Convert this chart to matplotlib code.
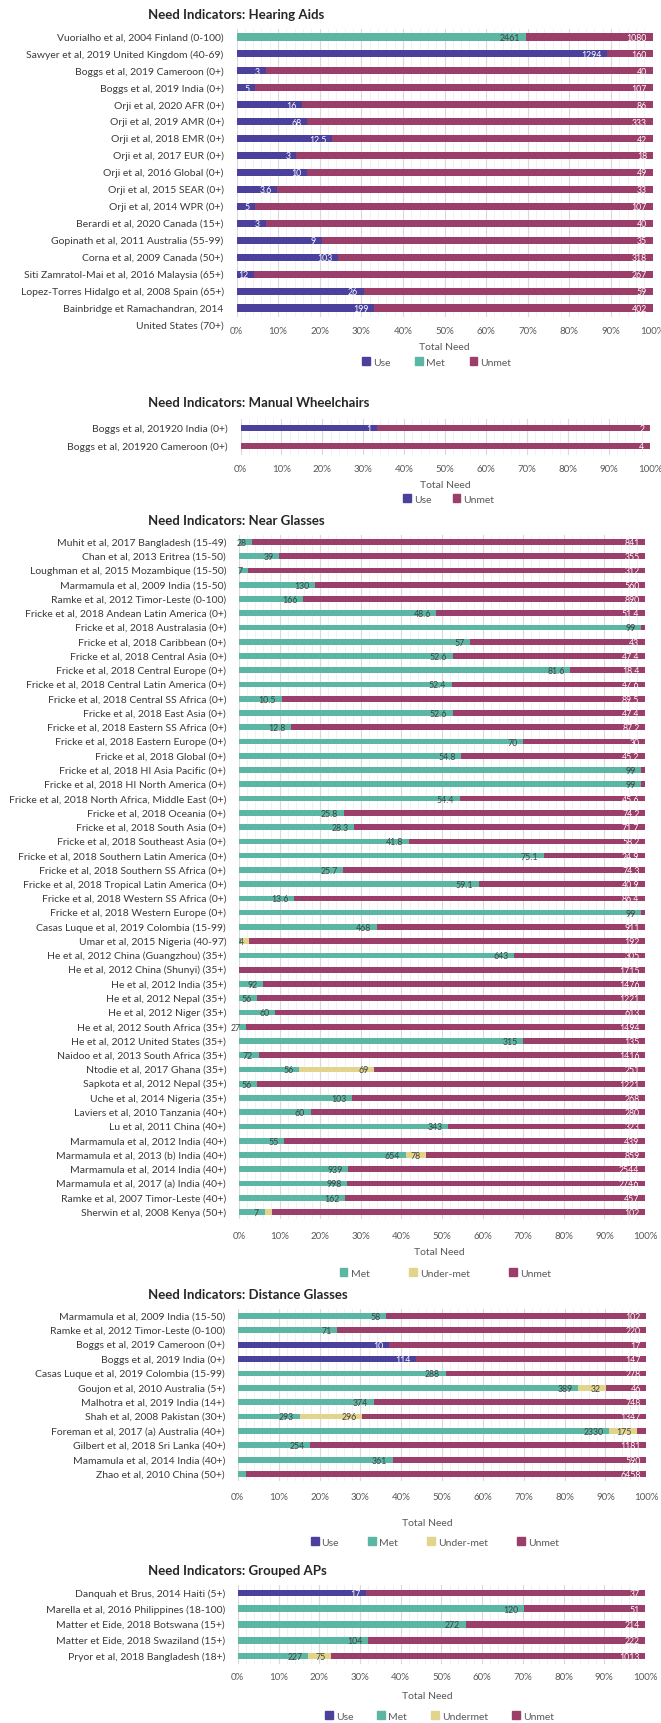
import matplotlib
matplotlib.use("Agg")
import matplotlib.pyplot as plt
import matplotlib.transforms as mtransforms
from matplotlib.patches import Patch
import numpy as np

plt.rcParams["font.family"] = ["Lato", "DejaVu Sans"]

W, H = 661, 1724
C_USE, C_MET, C_UNDER, C_UNMET = "#4b419c", "#5cb6a4", "#e3d48c", "#9b3e6a"
TXT_DARK = "#404040"

# ---- Hearing aids ----
HEAR_CATS = [
    "Vuorialho et al, 2004 Finland (0-100)", "Sawyer et al, 2019 United Kingdom (40-69)",
    "Boggs et al, 2019 Cameroon (0+)", "Boggs et al, 2019 India (0+)",
    "Orji et al, 2020 AFR (0+)", "Orji et al, 2019 AMR (0+)", "Orji et al, 2018 EMR (0+)",
    "Orji et al, 2017 EUR (0+)", "Orji et al, 2016 Global (0+)", "Orji et al, 2015 SEAR (0+)",
    "Orji et al, 2014 WPR (0+)", "Berardi et al, 2020 Canada (15+)",
    "Gopinath et al, 2011 Australia (55-99)", "Corna et al, 2009 Canada (50+)",
    "Siti Zamratol-Mai et al, 2016 Malaysia (65+)", "Lopez-Torres Hidalgo et al, 2008 Spain (65+)",
    "Bainbridge et Ramachandran, 2014\nUnited States (70+)",
]
HEAR_USE = [0, 1294, 3, 5, 16, 68, 12.5, 3, 10, 3.6, 5, 3, 9, 103, 12, 26, 199]
HEAR_MET = [2461, 0, 0, 0, 0, 0, 0, 0, 0, 0, 0, 0, 0, 0, 0, 0, 0]
HEAR_UNMET = [1080, 160, 40, 107, 86, 333, 42, 18, 49, 33, 107, 40, 35, 318, 267, 59, 402]

# ---- Manual wheelchairs ----
WC_CATS = ["Boggs et al, 201920 India (0+)", "Boggs et al, 201920 Cameroon (0+)"]
WC_USE = [1, 0]
WC_UNMET = [2, 4]

# ---- Near glasses ----
NEAR_CATS = [
    "Muhit et al, 2017 Bangladesh (15-49)", "Chan et al, 2013 Eritrea (15-50)",
    "Loughman et al, 2015 Mozambique (15-50)", "Marmamula et al, 2009 India (15-50)",
    "Ramke et al, 2012 Timor-Leste (0-100)", "Fricke et al, 2018 Andean Latin America (0+)",
    "Fricke et al, 2018 Australasia (0+)", "Fricke et al, 2018 Caribbean (0+)",
    "Fricke et al, 2018 Central Asia (0+)", "Fricke et al, 2018 Central Europe (0+)",
    "Fricke et al, 2018 Central Latin America (0+)", "Fricke et al, 2018 Central SS Africa (0+)",
    "Fricke et al, 2018 East Asia (0+)", "Fricke et al, 2018 Eastern SS Africa (0+)",
    "Fricke et al, 2018 Eastern Europe (0+)", "Fricke et al, 2018 Global (0+)",
    "Fricke et al, 2018 HI Asia Pacific (0+)", "Fricke et al, 2018 HI North America (0+)",
    "Fricke et al, 2018 North Africa, Middle East (0+)", "Fricke et al, 2018 Oceania (0+)",
    "Fricke et al, 2018 South Asia (0+)", "Fricke et al, 2018 Southeast Asia (0+)",
    "Fricke et al, 2018 Southern Latin America (0+)", "Fricke et al, 2018 Southern SS Africa (0+)",
    "Fricke et al, 2018 Tropical Latin America (0+)", "Fricke et al, 2018 Western SS Africa (0+)",
    "Fricke et al, 2018 Western Europe (0+)", "Casas Luque et al, 2019 Colombia (15-99)",
    "Umar et al, 2015 Nigeria (40-97)", "He et al, 2012 China (Guangzhou) (35+)",
    "He et al, 2012 China (Shunyi) (35+)", "He et al, 2012 India (35+)",
    "He et al, 2012 Nepal (35+)", "He et al, 2012 Niger (35+)",
    "He et al, 2012 South Africa (35+)", "He et al, 2012 United States (35+)",
    "Naidoo et al, 2013 South Africa (35+)", "Ntodie et al, 2017 Ghana (35+)",
    "Sapkota et al, 2012 Nepal (35+)", "Uche et al, 2014 Nigeria (35+)",
    "Laviers et al, 2010 Tanzania (40+)", "Lu et al, 2011 China (40+)",
    "Marmamula et al, 2012 India (40+)", "Marmamula et al, 2013 (b) India (40+)",
    "Marmamula et al, 2014 India (40+)", "Marmamula et al, 2017 (a) India (40+)",
    "Ramke et al, 2007 Timor-Leste (40+)", "Sherwin et al, 2008 Kenya (50+)",
]
NEAR_MET = [28, 39, 7, 130, 166, 48.6, 99, 57, 52.6, 81.6, 52.4, 10.5, 52.6, 12.8, 70, 54.8,
            99, 99, 54.4, 25.8, 28.3, 41.8, 75.1, 25.7, 59.1, 13.6, 99, 468, 1, 643, 0, 92,
            56, 60, 27, 315, 72, 56, 56, 103, 60, 343, 55, 654, 939, 998, 162, 7]
NEAR_UNDER = [0] * 28 + [4] + [0] * 8 + [69] + [0] * 5 + [78] + [0] * 3 + [2]
NEAR_UNMET = [841, 355, 312, 560, 890, 51.4, 1, 43, 47.4, 18.4, 47.6, 89.5, 47.4, 87.2, 30, 45.2,
              1, 1, 45.6, 74.2, 71.7, 58.2, 24.9, 74.3, 40.9, 86.4, 1, 911, 192, 305, 1715, 1476,
              1221, 613, 1494, 135, 1416, 251, 1221, 268, 280, 323, 439, 859, 2544, 2746, 457, 102]
NEAR_NOLABEL = [(6, "unmet"), (16, "unmet"), (17, "unmet"), (26, "unmet"), (28, "met"), (47, "under")]

# ---- Distance glasses ----
DIST_CATS = [
    "Marmamula et al, 2009 India (15-50)", "Ramke et al, 2012 Timor-Leste (0-100)",
    "Boggs et al, 2019 Cameroon (0+)", "Boggs et al, 2019 India (0+)",
    "Casas Luque et al, 2019 Colombia (15-99)", "Goujon et al, 2010 Australia (5+)",
    "Malhotra et al, 2019 India (14+)", "Shah et al, 2008 Pakistan (30+)",
    "Foreman et al, 2017 (a) Australia (40+)", "Gilbert et al, 2018 Sri Lanka (40+)",
    "Mamamula et al, 2014 India (40+)", "Zhao et al, 2010 China (50+)",
]
DIST_USE = [0, 0, 10, 114, 0, 0, 0, 0, 0, 0, 0, 0]
DIST_MET = [58, 71, 0, 0, 288, 389, 374, 293, 2330, 254, 361, 130]
DIST_UNDER = [0, 0, 0, 0, 0, 32, 0, 296, 175, 0, 0, 0]
DIST_UNMET = [102, 220, 17, 147, 278, 46, 748, 1347, 60, 1181, 590, 6458]
DIST_NOLABEL = [(8, "unmet"), (11, "met")]

# ---- Grouped APs ----
AP_CATS = [
    "Danquah et Brus, 2014 Haiti (5+)", "Marella et al, 2016 Philippines (18-100)",
    "Matter et Eide, 2018 Botswana (15+)", "Matter et Eide, 2018 Swaziland (15+)",
    "Pryor et al, 2018 Bangladesh (18+)",
]
AP_USE = [17, 0, 0, 0, 0]
AP_MET = [0, 120, 272, 104, 227]
AP_UNDER = [0, 0, 0, 0, 75]
AP_UNMET = [37, 51, 214, 222, 1013]

fig = plt.figure(figsize=(W / 100, H / 100), dpi=100)
fig.patch.set_facecolor("white")


def panel(title, cats, series, nolabel, legend, lay):
    (x0, x1, ytop, ybot, bar_h, title_y, tick_y, xlab_x, xlab_y,
     leg_x, leg_y, colsp) = lay
    ax = fig.add_axes([x0 / W, 1 - ybot / H, (x1 - x0) / W, (ybot - ytop) / H])
    n = len(cats)
    y = np.arange(n)
    vals = [np.asarray(v, float) for _, v, _, _ in series]
    tot = np.sum(vals, axis=0)
    left = np.zeros(n)
    for (key, _, col, tcol), v in zip(series, vals):
        w = v / tot * 100
        ax.barh(y, w, left=left, height=bar_h, color=col, zorder=3, lw=0)
        for i in range(n):
            if v[i] > 0 and (i, key) not in nolabel:
                ax.annotate(f"{v[i]:g}", (left[i] + w[i], i), xytext=(-4, -0.3),
                            textcoords="offset points", ha="right", va="center",
                            fontsize=6.3, color=tcol, zorder=4)
        left += w
    ax.set_xlim(0, 100)
    ax.set_ylim(n - 0.5, -0.5)
    ax.set_xticks(np.arange(0, 101, 10))
    ax.set_xticklabels([f"{t}%" for t in range(0, 101, 10)], fontsize=7, color="#595959")
    ax.set_xticks(np.arange(0, 101, 2), minor=True)
    ax.set_yticks([])
    ax.grid(which="major", axis="x", color="#d9d9d9", lw=0.8, zorder=0)
    ax.grid(which="minor", axis="x", color="#efefef", lw=0.6, zorder=0)
    ax.tick_params(which="both", length=0)
    ax.tick_params(axis="x", pad=(tick_y - ybot - 5) * 0.72)
    for s in ax.spines.values():
        s.set_visible(False)
    trans = mtransforms.blended_transform_factory(ax.transAxes, ax.transData)
    for i, lab in enumerate(cats):
        for k, line in enumerate(lab.split("\n")):
            ax.annotate(line, (0, i), xycoords=trans, xytext=(-9.2, -k * 12.2),
                        textcoords="offset points", ha="right", va="center",
                        fontsize=7.5, color="#3a3a3a")
    fig.text(148 / W, 1 - title_y / H, title, fontsize=9.5, fontweight="bold",
             color="#262626", ha="left", va="center")
    fig.text(xlab_x / W, 1 - xlab_y / H, "Total Need", fontsize=7.5,
             color="#595959", ha="center", va="center")
    handles = [Patch(color=c, label=l) for l, c in legend]
    fig.legend(handles=handles, loc="center", bbox_to_anchor=(leg_x / W, 1 - leg_y / H),
               ncol=len(handles), frameon=False, fontsize=7.5, handlelength=0.75,
               handleheight=0.75, handletextpad=0.3, columnspacing=colsp, labelcolor="#595959",
               borderpad=0)
    return ax


panel("Need Indicators: Hearing Aids", HEAR_CATS,
      [("use", HEAR_USE, C_USE, "white"), ("met", HEAR_MET, C_MET, TXT_DARK),
       ("unmet", HEAR_UNMET, C_UNMET, "white")], [],
      [("Use", C_USE), ("Met", C_MET), ("Unmet", C_UNMET)],
      (236.5, 652.5, 29.5, 317.5, 0.42, 15, 332, 444, 347, 437, 363, 2.35))

panel("Need Indicators: Manual Wheelchairs", WC_CATS,
      [("use", WC_USE, C_USE, "white"), ("unmet", WC_UNMET, C_UNMET, "white")], [],
      [("Use", C_USE), ("Unmet", C_UNMET)],
      (240.5, 650, 420, 456, 0.38, 403, 470, 445, 486, 449, 500, 2.0))

panel("Need Indicators: Near Glasses", NEAR_CATS,
      [("met", NEAR_MET, C_MET, TXT_DARK), ("under", NEAR_UNDER, C_UNDER, TXT_DARK),
       ("unmet", NEAR_UNMET, C_UNMET, "white")], NEAR_NOLABEL,
      [("Met", C_MET), ("Under-met", C_UNDER), ("Unmet", C_UNMET)],
      (239, 645, 535.9, 1220.1, 0.4, 521, 1237, 439, 1253, 445.5, 1274, 3.8))

panel("Need Indicators: Distance Glasses", DIST_CATS,
      [("use", DIST_USE, C_USE, "white"), ("met", DIST_MET, C_MET, TXT_DARK),
       ("under", DIST_UNDER, C_UNDER, TXT_DARK), ("unmet", DIST_UNMET, C_UNMET, "white")],
      DIST_NOLABEL,
      [("Use", C_USE), ("Met", C_MET), ("Under-met", C_UNDER), ("Unmet", C_UNMET)],
      (237.8, 646.3, 1309.8, 1482.2, 0.4, 1295, 1498, 427, 1523, 435, 1543, 2.8))

panel("Need Indicators: Grouped APs", AP_CATS,
      [("use", AP_USE, C_USE, "white"), ("met", AP_MET, C_MET, TXT_DARK),
       ("under", AP_UNDER, C_UNDER, TXT_DARK), ("unmet", AP_UNMET, C_UNMET, "white")], [],
      [("Use", C_USE), ("Met", C_MET), ("Undermet", C_UNDER), ("Unmet", C_UNMET)],
      (237.8, 645, 1586.1, 1664.9, 0.42, 1571, 1678, 427, 1697, 439.5, 1717, 2.3))

fig.savefig("out.png", dpi=100)
